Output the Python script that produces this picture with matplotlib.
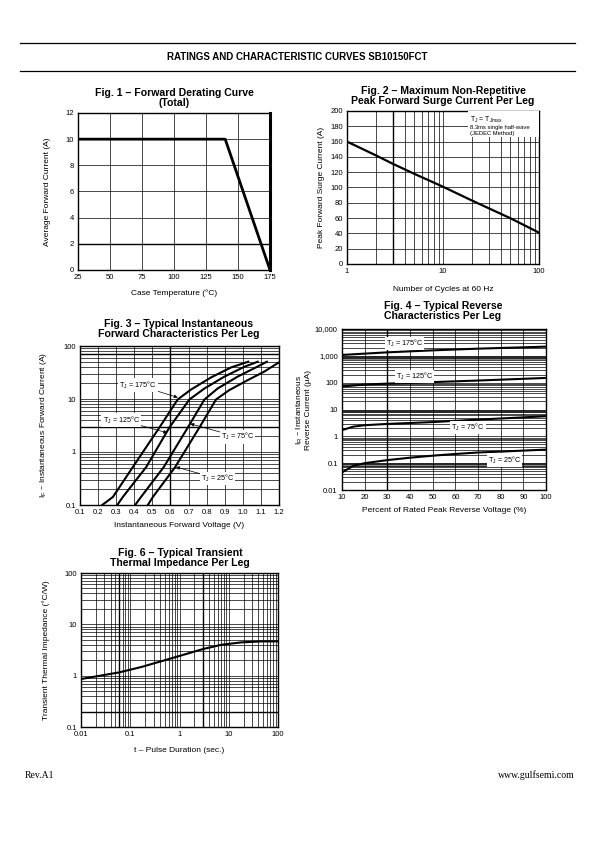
import matplotlib
matplotlib.use("Agg")
import matplotlib.pyplot as plt
from matplotlib.ticker import LogLocator, FixedLocator, NullFormatter, FixedFormatter

plt.rcParams.update({
    "font.family": ["Liberation Sans", "DejaVu Sans"],
    "font.size": 5.5,
    "axes.linewidth": 1.0,
    "xtick.major.size": 0,
    "ytick.major.size": 0,
    "xtick.minor.size": 0,
    "ytick.minor.size": 0,
    "xtick.major.pad": 3,
    "ytick.major.pad": 3,
})

# ── data ───────────────────────────────────────────────────────────────────────
# Fig 1 — forward derating
derate_t = [25, 140, 175]
derate_i = [10, 10, 0]

# Fig 2 — surge current vs cycles
surge_n = [1, 2, 3, 5, 10, 20, 50, 100]
surge_i = [160, 142, 131, 118, 101, 83, 60, 41]

# Fig 3 — forward characteristics
vf_175 = [0.223, 0.282, 0.392, 0.539, 0.640, 0.714, 0.824, 0.935, 1.030]
if_175 = [0.1, 0.142, 0.52, 2.9, 9.8, 15.1, 25.5, 39.4, 50.5]
vf_125 = [0.306, 0.337, 0.466, 0.594, 0.705, 0.788, 0.898, 1.008, 1.082]
if_125 = [0.1, 0.142, 0.52, 2.9, 9.8, 15.8, 26.4, 40.5, 50.5]
vf_75 = [0.405, 0.429, 0.563, 0.696, 0.788, 0.861, 0.971, 1.072, 1.133]
if_75 = [0.1, 0.13, 0.52, 2.9, 9.8, 15.8, 26.4, 39.4, 50.5]
vf_25 = [0.475, 0.503, 0.626, 0.760, 0.852, 0.925, 1.026, 1.118, 1.199]
if_25 = [0.1, 0.142, 0.52, 2.9, 9.8, 14.7, 22.6, 32.8, 49.0]

# Fig 4 — reverse characteristics
pct_175 = [10, 30, 50, 70, 100]
ir_175 = [1080, 1350, 1600, 1850, 2200]
pct_125 = [10, 20, 30, 50, 70, 100]
ir_125 = [72, 85, 92, 105, 120, 150]
pct_75 = [10, 15, 20, 30, 50, 70, 100]
ir_75 = [1.7, 2.3, 2.6, 2.9, 3.4, 4.2, 5.6]
pct_25 = [10, 15, 20, 30, 40, 50, 60, 70, 80, 100]
ir_25 = [0.045, 0.08, 0.10, 0.13, 0.16, 0.19, 0.22, 0.25, 0.27, 0.32]

# Fig 6 — transient thermal impedance
tp = [0.01, 0.06, 0.17, 0.94, 3.0, 7.1, 18, 46, 100]
zth = [0.86, 1.16, 1.48, 2.38, 3.3, 4.0, 4.45, 4.65, 4.65]

GRID = dict(color="black", lw=0.5)
THICK = dict(color="black", lw=1.0)
TITLE = dict(fontsize=7.6, fontweight="bold", ha="center", va="center", linespacing=1.05)
LBL = 6.0
TJ = "T$_\\mathregular{J}$"

W, H = 595, 842
fig = plt.figure(figsize=(W / 100, H / 100), dpi=100)


def box(x0, y0, x1, y1):
    return [x0 / W, 1 - y1 / H, (x1 - x0) / W, (y1 - y0) / H]


def ftext(x, y, s, **kw):
    fig.text(x / W, 1 - y / H, s, **kw)


# ── header / footer ────────────────────────────────────────────────────────────
for yy in (43, 71):
    fig.add_artist(plt.Line2D([20 / W, 575 / W], [1 - yy / H] * 2, color="black", lw=0.9))
ftext(297, 57, "RATINGS AND CHARACTERISTIC CURVES SB10150FCT",
      fontsize=7, fontweight="bold", ha="center", va="center")
ftext(25, 775, "Rev.A1", fontsize=7, family="Liberation Serif", va="center")
ftext(575, 775, "www.gulfsemi.com", fontsize=7, family="Liberation Serif",
      ha="right", va="center")

# ── Fig 1 ──────────────────────────────────────────────────────────────────────
ax1 = fig.add_axes(box(78, 113, 270, 270))
ax1.set_xlim(25, 175)
ax1.set_ylim(0, 12)
ax1.set_xticks(range(25, 176, 25))
ax1.set_yticks(range(0, 13, 2))
ax1.grid(True, **GRID)
ax1.axhline(2, **THICK)
ax1.plot(derate_t, derate_i, color="black", lw=2.0, zorder=3)
ax1.spines["right"].set_linewidth(2.2)
ax1.set_xlabel("Case Temperature (°C)", fontsize=LBL, labelpad=6)
ax1.set_ylabel("Average Forward Current (A)", fontsize=LBL, labelpad=10)
ftext(174, 98, "Fig. 1 – Forward Derating Curve\n(Total)", **TITLE)

# ── Fig 2 ──────────────────────────────────────────────────────────────────────
ax2 = fig.add_axes(box(347, 111, 539, 264))
ax2.set_xscale("log")
ax2.set_xlim(1, 100)
ax2.set_ylim(0, 200)
ax2.set_yticks(range(0, 201, 20))
ax2.xaxis.set_major_locator(FixedLocator([1, 10, 100]))
ax2.xaxis.set_major_formatter(FixedFormatter(["1", "10", "100"]))
ax2.xaxis.set_minor_locator(LogLocator(subs=range(2, 10)))
ax2.xaxis.set_minor_formatter(NullFormatter())
ax2.grid(True, which="both", **GRID)
ax2.axvline(3, **THICK)
ax2.plot(surge_n, surge_i, color="black", lw=1.6, zorder=3)
ax2.add_patch(plt.Rectangle((0.63, 0.83), 0.37, 0.17, transform=ax2.transAxes,
                            facecolor="white", edgecolor="none", zorder=3))
ax2.text(0.64, 0.941, TJ + " = T$_\\mathregular{Jmax}$", transform=ax2.transAxes,
         fontsize=5, ha="left", va="center", zorder=4)
ax2.text(0.64, 0.895, "8.3ms single half-wave", transform=ax2.transAxes,
         fontsize=4.2, ha="left", va="center", zorder=4)
ax2.text(0.64, 0.856, "(JEDEC Method)", transform=ax2.transAxes,
         fontsize=4.2, ha="left", va="center", zorder=4)
ax2.set_xlabel("Number of Cycles at 60 Hz", fontsize=LBL, labelpad=8)
ax2.set_ylabel("Peak Forward Surge Current (A)", fontsize=LBL, labelpad=4)
ftext(443, 96, "Fig. 2 – Maximum Non-Repetitive\nPeak Forward Surge Current Per Leg", **TITLE)

# ── Fig 3 ──────────────────────────────────────────────────────────────────────
ax3 = fig.add_axes(box(80, 346, 279, 505))
ax3.set_yscale("log")
ax3.set_xlim(0.1, 1.2)
ax3.set_ylim(0.1, 100)
ax3.set_xticks([round(0.1 * k, 1) for k in range(1, 13)])
ax3.yaxis.set_major_locator(FixedLocator([0.1, 1, 10, 100]))
ax3.yaxis.set_major_formatter(FixedFormatter(["0.1", "1", "10", "100"]))
ax3.yaxis.set_minor_locator(LogLocator(subs=range(2, 10)))
ax3.yaxis.set_minor_formatter(NullFormatter())
ax3.grid(True, which="both", **GRID)
ax3.axvline(0.6, **THICK)
ax3.axhline(3, **THICK)
ax3.axhline(70, **THICK)
for v, i in ((vf_175, if_175), (vf_125, if_125), (vf_75, if_75), (vf_25, if_25)):
    ax3.plot(v, i, color="black", lw=1.5, zorder=3)
bb = dict(boxstyle="square,pad=0.15", fc="white", ec="none")
ap = dict(arrowstyle="-|>", lw=0.5, color="black", mutation_scale=5, shrinkA=0, shrinkB=0)
for txt, xy, xyt in ((TJ + " = 175°C", (0.64, 10.7), (0.42, 18.3)),
                     (TJ + " = 125°C", (0.582, 2.3), (0.328, 4.0)),
                     (TJ + " = 75°C", (0.71, 3.4), (0.971, 1.93)),
                     (TJ + " = 25°C", (0.631, 0.52), (0.861, 0.315))):
    ax3.annotate(txt, xy=xy, xytext=xyt, fontsize=5.2, ha="center", va="center",
                 bbox=bb, arrowprops=ap, zorder=4)
ax3.set_xlabel("Instantaneous Forward Voltage (V)", fontsize=LBL, labelpad=4)
ax3.set_ylabel("I$_\\mathregular{F}$ – Instantaneous Forward Current (A)", fontsize=LBL, labelpad=10)
ftext(179, 329, "Fig. 3 – Typical Instantaneous\nForward Characteristics Per Leg", **TITLE)

# ── Fig 4 ──────────────────────────────────────────────────────────────────────
ax4 = fig.add_axes(box(342, 329, 546, 490))
ax4.set_yscale("log")
ax4.set_xlim(10, 100)
ax4.set_ylim(0.01, 10000)
ax4.set_xticks(range(10, 101, 10))
ax4.yaxis.set_major_locator(FixedLocator([0.01, 0.1, 1, 10, 100, 1000, 10000]))
ax4.yaxis.set_major_formatter(FixedFormatter(["0.01", "0.1", "1", "10", "100", "1,000", "10,000"]))
ax4.yaxis.set_minor_locator(LogLocator(subs=range(2, 10), numticks=20))
ax4.yaxis.set_minor_formatter(NullFormatter())
ax4.grid(True, which="both", **GRID)
for lo, hi in ((720, 980), (7.2, 9.8), (0.072, 0.098)):
    ax4.axhspan(lo, hi, color="#888888", lw=0, zorder=1)
ax4.axvline(30, **THICK)
for p, i in ((pct_175, ir_175), (pct_125, ir_125), (pct_75, ir_75), (pct_25, ir_25)):
    ax4.plot(p, i, color="black", lw=1.5, zorder=3)
for txt, x, y in ((TJ + " = 175°C", 37.6, 2900),
                  (TJ + " = 125°C", 42, 167),
                  (TJ + " = 75°C", 65.5, 2.1),
                  (TJ + " = 25°C", 81.7, 0.131)):
    ax4.text(x, y, txt, fontsize=5.2, ha="center", va="center", bbox=bb, zorder=4)
ax4.set_xlabel("Percent of Rated Peak Reverse Voltage (%)", fontsize=LBL, labelpad=4)
ax4.set_ylabel("I$_\\mathregular{R}$ – Instantaneous\nReverse Current (µA)", fontsize=LBL,
               labelpad=2, linespacing=1.1)
ftext(443, 311, "Fig. 4 – Typical Reverse\nCharacteristics Per Leg", **TITLE)

# ── Fig 6 ──────────────────────────────────────────────────────────────────────
ax6 = fig.add_axes(box(81, 573, 278, 727))
ax6.set_xscale("log")
ax6.set_yscale("log")
ax6.set_xlim(0.01, 100)
ax6.set_ylim(0.1, 100)
ax6.xaxis.set_major_locator(FixedLocator([0.01, 0.1, 1, 10, 100]))
ax6.xaxis.set_major_formatter(FixedFormatter(["0.01", "0.1", "1", "10", "100"]))
ax6.yaxis.set_major_locator(FixedLocator([0.1, 1, 10, 100]))
ax6.yaxis.set_major_formatter(FixedFormatter(["0.1", "1", "10", "100"]))
for a in (ax6.xaxis, ax6.yaxis):
    a.set_minor_locator(LogLocator(subs=range(2, 10), numticks=20))
    a.set_minor_formatter(NullFormatter())
ax6.grid(True, which="both", **GRID)
ax6.axvline(0.06, **THICK)
ax6.axvline(3, **THICK)
ax6.axhline(0.2, **THICK)
ax6.plot(tp, zth, color="black", lw=1.5, zorder=3)
ax6.set_xlabel("t – Pulse Duration (sec.)", fontsize=LBL, labelpad=6)
ax6.set_ylabel("Transient Thermal Impedance (°C/W)", fontsize=LBL, labelpad=10)
ftext(180, 558, "Fig. 6 – Typical Transient\nThermal Impedance Per Leg", **TITLE)

fig.savefig("out.png", dpi=100, facecolor="white")
